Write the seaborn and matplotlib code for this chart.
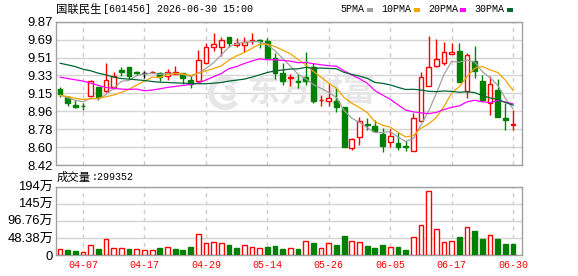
import numpy as np
import matplotlib
matplotlib.use("Agg")
import matplotlib.pyplot as plt
import seaborn as sns
from matplotlib.patches import Rectangle, Wedge
from matplotlib.transforms import IdentityTransform

# ---------------- data ----------------
open_ = [9.191, 9.111, 9.027, 9.020, 9.121, 9.205, 9.168, 9.205, 9.383, 9.413,
         9.359, 9.349, 9.356, 9.349, 9.316, 9.342, 9.349, 9.282, 9.265, 9.457,
         9.611, 9.618, 9.719, 9.631, 9.635, 9.678, 9.685, 9.672, 9.500, 9.349,
         9.302, 9.272, 9.309, 9.416, 9.074, 9.064, 9.064, 9.007, 8.590, 8.704,
         8.838, 8.811, 8.738, 8.657, 8.644, 8.617, 8.566, 8.862, 9.221, 9.423,
         9.450, 9.541, 9.574, 9.164, 9.473, 9.272, 9.047, 9.174, 8.899, 8.825]
high = [9.205, 9.121, 9.080, 9.047, 9.282, 9.205, 9.457, 9.356, 9.413, 9.413,
        9.373, 9.373, 9.369, 9.356, 9.389, 9.423, 9.349, 9.316, 9.584, 9.658,
        9.752, 9.712, 9.719, 9.702, 9.719, 9.752, 9.692, 9.702, 9.557, 9.450,
        9.342, 9.342, 9.567, 9.450, 9.131, 9.248, 9.198, 9.007, 8.694, 8.902,
        8.895, 8.879, 8.795, 8.785, 8.751, 8.660, 8.946, 9.359, 9.725, 9.692,
        9.668, 9.658, 9.658, 9.551, 9.625, 9.332, 9.316, 9.289, 9.047, 8.980]
low = [9.107, 9.020, 9.000, 8.973, 9.107, 9.080, 9.161, 9.188, 9.322, 9.289,
       9.332, 9.299, 9.349, 9.275, 9.282, 9.342, 9.238, 9.198, 9.248, 9.450,
       9.578, 9.524, 9.618, 9.611, 9.567, 9.645, 9.601, 9.490, 9.292, 9.232,
       9.215, 9.198, 9.232, 9.047, 9.020, 9.013, 8.953, 8.600, 8.576, 8.627,
       8.778, 8.754, 8.549, 8.603, 8.570, 8.560, 8.566, 8.862, 9.221, 9.410,
       9.433, 9.541, 9.260, 9.097, 9.299, 9.053, 8.929, 8.902, 8.778, 8.771]
close = [9.141, 9.043, 9.007, 9.013, 9.269, 9.104, 9.279, 9.316, 9.366, 9.322,
         9.349, 9.349, 9.359, 9.306, 9.366, 9.356, 9.299, 9.242, 9.480, 9.611,
         9.641, 9.685, 9.658, 9.651, 9.668, 9.685, 9.678, 9.500, 9.349, 9.275,
         9.309, 9.258, 9.265, 9.064, 9.080, 9.097, 9.007, 8.600, 8.684, 8.869,
         8.828, 8.761, 8.610, 8.718, 8.603, 8.603, 8.896, 9.309, 9.416, 9.490,
         9.567, 9.567, 9.260, 9.534, 9.376, 9.080, 9.242, 8.902, 8.872, 8.835]

ma5 = [9.130, 9.100, 9.075, 9.060, 9.095, 9.087, 9.134, 9.196, 9.267, 9.277,
       9.326, 9.340, 9.349, 9.337, 9.346, 9.347, 9.337, 9.314, 9.349, 9.398,
       9.455, 9.532, 9.615, 9.649, 9.661, 9.669, 9.668, 9.636, 9.576, 9.497,
       9.422, 9.338, 9.291, 9.234, 9.195, 9.153, 9.103, 8.970, 8.894, 8.851,
       8.798, 8.748, 8.750, 8.757, 8.704, 8.659, 8.686, 8.826, 8.965, 9.143,
       9.336, 9.470, 9.460, 9.484, 9.461, 9.364, 9.303, 9.227, 9.094, 8.986]
ma10 = [9.125, 9.112, 9.095, 9.083, 9.090, 9.095, 9.110, 9.130, 9.155, 9.186,
        9.230, 9.268, 9.308, 9.307, 9.336, 9.344, 9.343, 9.326, 9.348, 9.373,
        9.396, 9.423, 9.482, 9.524, 9.558, 9.601, 9.642, 9.643, 9.619, 9.583,
        9.545, 9.487, 9.434, 9.366, 9.309, 9.246, 9.197, 9.102, 9.045, 9.002,
        8.951, 8.859, 8.822, 8.804, 8.751, 8.704, 8.718, 8.792, 8.835, 8.901,
        9.011, 9.148, 9.213, 9.314, 9.399, 9.417, 9.382, 9.356, 9.278, 9.175]
ma20 = [9.309, 9.295, 9.282, 9.269, 9.248, 9.225, 9.205, 9.195, 9.188, 9.185,
        9.188, 9.171, 9.178, 9.191, 9.205, 9.215, 9.225, 9.235, 9.250, 9.280,
        9.313, 9.346, 9.395, 9.416, 9.447, 9.473, 9.493, 9.485, 9.484, 9.478,
        9.471, 9.455, 9.458, 9.445, 9.434, 9.424, 9.420, 9.373, 9.332, 9.293,
        9.248, 9.173, 9.128, 9.085, 9.030, 8.975, 8.958, 8.947, 8.940, 8.952,
        8.981, 9.004, 9.018, 9.059, 9.075, 9.061, 9.050, 9.074, 9.057, 9.038]
ma30 = [9.450, 9.433, 9.416, 9.389, 9.373, 9.349, 9.332, 9.309, 9.295, 9.289,
        9.282, 9.275, 9.265, 9.258, 9.255, 9.251, 9.248, 9.245, 9.242, 9.242,
        9.248, 9.255, 9.269, 9.279, 9.289, 9.309, 9.332, 9.356, 9.373, 9.381,
        9.391, 9.393, 9.408, 9.399, 9.401, 9.397, 9.394, 9.357, 9.337, 9.320,
        9.297, 9.256, 9.246, 9.231, 9.206, 9.184, 9.186, 9.179, 9.166, 9.162,
        9.169, 9.165, 9.156, 9.161, 9.153, 9.122, 9.099, 9.083, 9.053, 9.026]

volume_wan = [16, 14, 11, 8.5, 27, 17, 44, 21, 19, 17,
              18, 14, 14, 20, 22, 17, 15, 23, 59, 35,
              37, 34, 29, 20, 28, 23, 21, 23, 26, 17,
              19, 17, 40, 34, 19, 33, 28, 54, 39, 36,
              25, 20, 28, 22, 23, 14, 50, 84, 180, 73,
              37, 40, 51, 78, 68, 45, 56, 45, 31, 29.9352]
vol_up = [1, 0, 0, 1, 1, 0, 1, 1, 1, 0,
          1, 1, 1, 0, 1, 0, 0, 0, 1, 1,
          1, 1, 0, 0, 1, 1, 1, 0, 0, 0,
          1, 0, 1, 0, 1, 1, 0, 0, 1, 1,
          0, 0, 0, 1, 0, 0, 1, 1, 1, 1,
          1, 1, 0, 1, 0, 0, 1, 0, 0, 0]

date_ticks = [3, 11, 19, 27, 35, 43, 51, 59]
date_labels = ["04-07", "04-17", "04-29", "05-14", "05-26", "06-05", "06-17", "06-30"]
price_ticks = [8.42, 8.60125, 8.7825, 8.96375, 9.145, 9.32625, 9.5075, 9.68875, 9.87]
price_labels = ["8.42", "8.60", "8.78", "8.96", "9.15", "9.33", "9.51", "9.69", "9.87"]
vol_ticks = [0, 48.38, 96.76, 145.14, 193.52]
vol_labels = ["0", "48.38万", "96.76万", "145万", "194万"]
title_name = "国联民生"
title_rest = "[601456] 2026-06-30 15:00"
vol_name = "成交量"
vol_last = ":299352"
ma_names = ["5PMA", "10PMA", "20PMA", "30PMA"]

# ---------------- style ----------------
sns.set_theme(style="white")
plt.rcParams["font.family"] = ["Liberation Sans", "Noto Sans CJK SC"]
RED = "#FF0000"
GREEN = "#008000"
MA_COLORS = ["#A0A0A0", "#F5A300", "#FF00FF", "#006633"]
GRID = "#D4D4D4"
FRAME = "#A0A0A0"
WM = "#E6E6E6"
MONO = ["Liberation Mono", "Noto Sans CJK SC"]
CJK = ["Noto Sans CJK SC", "DejaVu Sans"]

W, H = 578, 276
fig = plt.figure(figsize=(W / 100, H / 100), dpi=100)
fig.patch.set_facecolor("white")


def rect(l, t, r, b):
    return [l / W, 1 - b / H, (r - l) / W, (b - t) / H]


ax = fig.add_axes(rect(56, 21.7, 522, 165))
axv = fig.add_axes(rect(56, 186.7, 522, 255))

o = np.array(open_)
hi = np.array(high)
lo = np.array(low)
c = np.array(close)
n = len(c)
x = np.arange(n)
up = c > o
down = c < o
flat = ~(up | down)

# watermark (logo swirl + text)
ax.add_patch(Wedge((225, H - 93), 17, 40, 320, width=6, transform=IdentityTransform(),
                   facecolor=WM, edgecolor="none", zorder=1))
ax.add_patch(Wedge((228, H - 93), 8, 200, 480, width=5, transform=IdentityTransform(),
                   facecolor=WM, edgecolor="none", zorder=1))
ax.text(247 / W, 1 - 93 / H, "东方财富", transform=fig.transFigure, ha="left",
        va="center", fontsize=23, fontweight="bold", color=WM,
        family=CJK, zorder=1)

# wicks and bodies
wick_cols = np.where(up, RED, np.where(down, GREEN, "black"))
ax.vlines(x, lo, hi, colors=wick_cols, lw=1, zorder=3)
bottom = np.minimum(o, c)
height = np.maximum(np.abs(c - o), 0.004)
bw = 0.62
ax.bar(x[up], height[up], bottom=bottom[up], width=bw, facecolor="white",
       edgecolor=RED, lw=1, zorder=4)
ax.bar(x[down], height[down], bottom=bottom[down], width=bw, facecolor=GREEN,
       edgecolor=GREEN, lw=1, zorder=4)
ax.bar(x[flat], height[flat], bottom=bottom[flat], width=bw, facecolor="black",
       edgecolor="black", lw=1, zorder=4)

for vals, col in zip([ma5, ma10, ma20, ma30], MA_COLORS):
    sns.lineplot(x=x, y=vals, ax=ax, color=col, lw=0.9, zorder=5,
                 estimator=None, legend=False)

ax.set_xlim(-0.52, 60.16)
ax.set_ylim(8.42, 9.87)
ax.set_yticks(price_ticks, price_labels)
ax.set_xticks(date_ticks)
ax.tick_params(axis="x", labelbottom=False, length=0)
ax.tick_params(axis="y", length=0, pad=2.2, labelsize=9.4, colors="black")
ax.yaxis.grid(True, color=GRID, lw=1)
ax.xaxis.grid(True, color="#CCCCCC", lw=1, ls=(0, (3, 3)))
ax.set_axisbelow(True)

# volume
v = np.array(volume_wan)
vu = np.array(vol_up).astype(bool)
axv.bar(x[vu], v[vu], width=bw, facecolor="white", edgecolor=RED, lw=1, zorder=4)
axv.bar(x[~vu], v[~vu], width=bw, facecolor=GREEN, edgecolor=GREEN, lw=1, zorder=4)
axv.set_xlim(-0.52, 60.16)
axv.set_ylim(0, 193.52)
axv.set_yticks(vol_ticks, vol_labels)
axv.set_xticks(date_ticks, date_labels)
axv.tick_params(axis="y", length=0, pad=2.2, labelsize=9.4, colors="black")
axv.tick_params(axis="x", length=0, pad=3.5, labelsize=7.2, colors=RED)
for lab in axv.get_xticklabels():
    lab.set_family(MONO)
axv.yaxis.grid(True, color=GRID, lw=1)
axv.xaxis.grid(True, color="#CCCCCC", lw=1, ls=(0, (3, 3)))
axv.set_axisbelow(True)

for a in (ax, axv):
    a.set_xlabel("")
    a.set_ylabel("")
    for s in a.spines.values():
        s.set_color(FRAME)
        s.set_linewidth(1)
        s.set_visible(True)

# header texts
fig.text(56 / W, 1 - 9.3 / H, title_name, ha="left", va="center",
         fontsize=8.2, family=CJK, color="black")
fig.text(103 / W, 1 - 9.3 / H, title_rest, ha="left", va="center",
         fontsize=7.2, family=MONO, color="black")
fig.text(57 / W, 1 - 177 / H, vol_name, ha="left", va="center",
         fontsize=8.2, family=CJK, color="black")
fig.text(92 / W, 1 - 177 / H, vol_last, ha="left", va="center",
         fontsize=7.2, family=MONO, color="black")

leg_x = [340, 381, 428, 474]
sq_x = [367, 414, 460, 507]
for name, lx, sx, col in zip(ma_names, leg_x, sq_x, MA_COLORS):
    fig.text(lx / W, 1 - 9.3 / H, name, ha="left", va="center", fontsize=7.2,
             family=MONO, color="black")
    fig.add_artist(Rectangle((sx / W, 1 - 11.5 / H), 6 / W, 4 / H,
                             transform=fig.transFigure, facecolor=col,
                             edgecolor="none"))

fig.savefig("out.png", dpi=100, facecolor="white")
